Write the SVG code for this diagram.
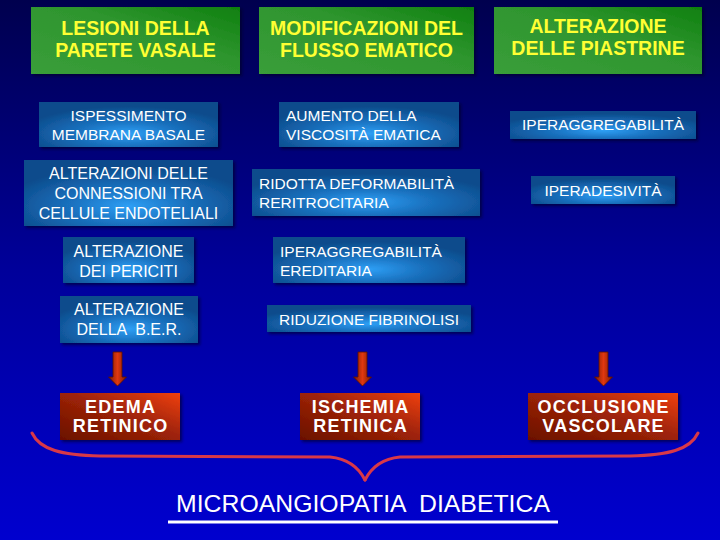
<svg xmlns="http://www.w3.org/2000/svg" width="720" height="540" viewBox="0 0 720 540">
<defs>
<linearGradient id="bg" x1="0" y1="0" x2="0" y2="1">
<stop offset="0" stop-color="#00004e"/>
<stop offset="0.5" stop-color="#00009a"/>
<stop offset="1" stop-color="#0000cf"/>
</linearGradient>
<linearGradient id="green" x1="0" y1="1" x2="1" y2="0">
<stop offset="0" stop-color="#3a9e3a"/>
<stop offset="0.6" stop-color="#2e952e"/>
<stop offset="1" stop-color="#0f800f"/>
</linearGradient>
<radialGradient id="blue" cx="0.5" cy="0.7" r="0.6">
<stop offset="0" stop-color="#2e9ff5"/>
<stop offset="0.45" stop-color="#1a72c0"/>
<stop offset="1" stop-color="#0d4c8c"/>
</radialGradient>
<linearGradient id="red" x1="0" y1="1" x2="1" y2="0">
<stop offset="0" stop-color="#6a1000"/>
<stop offset="0.55" stop-color="#a02408"/>
<stop offset="1" stop-color="#f04010"/>
</linearGradient>
<linearGradient id="arrow" x1="0" y1="0" x2="1" y2="0">
<stop offset="0" stop-color="#7a1a00"/>
<stop offset="0.5" stop-color="#e03810"/>
<stop offset="1" stop-color="#7a1a00"/>
</linearGradient>
<filter id="sh" x="-10%" y="-20%" width="120%" height="140%">
<feDropShadow dx="2" dy="2" stdDeviation="1.5" flood-color="#000020" flood-opacity="0.6"/>
</filter>
<style>
.g{fill:url(#green);filter:url(#sh)}
.b{fill:url(#blue);filter:url(#sh)}
.r{fill:url(#red);filter:url(#sh)}
.a{fill:url(#arrow);stroke:#5a1000;stroke-width:0.8}
.ty{font-family:"Liberation Sans",Arial,sans-serif;font-weight:bold;font-size:19.5px;fill:#ffff33;text-anchor:middle}
.tw{font-family:"Liberation Sans",Arial,sans-serif;font-size:15.5px;fill:#ffffff}
.tw16{font-family:"Liberation Sans",Arial,sans-serif;font-size:16px;fill:#ffffff;text-anchor:middle}
.c{text-anchor:middle}
.tr{font-family:"Liberation Sans",Arial,sans-serif;font-weight:bold;font-size:18px;fill:#ffffff;text-anchor:middle;letter-spacing:1.2px}
.brace{fill:none;stroke:#d83848;stroke-width:3;stroke-linecap:round}
</style>
</defs>
<rect x="0" y="0" width="720" height="540" fill="url(#bg)"/>

<g id="lesioni">
<rect class="g" x="31" y="7" width="209" height="67"/>
<text class="ty" x="135.5" y="35">LESIONI DELLA</text>
<text class="ty" x="135.5" y="57">PARETE VASALE</text>
</g>
<g id="modificazioni">
<rect class="g" x="259" y="7" width="215" height="67"/>
<text class="ty" x="366.5" y="35">MODIFICAZIONI DEL</text>
<text class="ty" x="366.5" y="57">FLUSSO EMATICO</text>
</g>
<g id="piastrine">
<rect class="g" x="494" y="7" width="208" height="67"/>
<text class="ty" x="598" y="33">ALTERAZIONE</text>
<text class="ty" x="598" y="55">DELLE PIASTRINE</text>
</g>

<g id="ispessimento">
<rect class="b" x="39" y="102" width="179" height="45"/>
<text class="tw c" x="128.5" y="121">ISPESSIMENTO</text>
<text class="tw c" x="128.5" y="139.5">MEMBRANA BASALE</text>
</g>
<g id="connessioni">
<rect class="b" x="24" y="160" width="209" height="66"/>
<text class="tw16" x="128.5" y="179">ALTERAZIONI DELLE</text>
<text class="tw16" x="128.5" y="199">CONNESSIONI TRA</text>
<text class="tw16" x="128.5" y="218.5">CELLULE ENDOTELIALI</text>
</g>
<g id="periciti">
<rect class="b" x="63" y="237" width="131" height="46"/>
<text class="tw16" x="128.5" y="256.5">ALTERAZIONE</text>
<text class="tw16" x="128.5" y="276.5">DEI PERICITI</text>
</g>
<g id="ber">
<rect class="b" x="60" y="296" width="138" height="47"/>
<text class="tw16" x="129" y="315">ALTERAZIONE</text>
<text class="tw16" x="129" y="335" xml:space="preserve">DELLA  B.E.R.</text>
</g>

<g id="viscosita">
<rect class="b" x="279" y="102" width="180" height="45"/>
<text class="tw" x="286" y="121">AUMENTO DELLA</text>
<text class="tw" x="286" y="139.5">VISCOSITÀ EMATICA</text>
</g>
<g id="deformabilita">
<rect class="b" x="252" y="169" width="228" height="47"/>
<text class="tw" x="259" y="189">RIDOTTA DEFORMABILITÀ</text>
<text class="tw" x="259" y="208">RERITROCITARIA</text>
</g>
<g id="ereditaria">
<rect class="b" x="273" y="237" width="192" height="46"/>
<text class="tw" x="280" y="256.5">IPERAGGREGABILITÀ</text>
<text class="tw" x="280" y="275.5">EREDITARIA</text>
</g>
<g id="fibrinolisi">
<rect class="b" x="267" y="305" width="204" height="27"/>
<text class="tw c" x="369" y="325">RIDUZIONE FIBRINOLISI</text>
</g>

<g id="iperaggregabilita">
<rect class="b" x="510" y="111" width="186" height="28"/>
<text class="tw c" x="603" y="130">IPERAGGREGABILITÀ</text>
</g>
<g id="iperadesivita">
<rect class="b" x="531" y="176" width="144" height="28"/>
<text class="tw c" x="603" y="196">IPERADESIVITÀ</text>
</g>

<g id="connectors">
<path class="a" d="M113,352 H122 V377 H126.5 L117.5,386 L108.5,377 H113 Z"/>
<path class="a" d="M358,352 H367 V377 H371.5 L362.5,386 L353.5,377 H358 Z"/>
<path class="a" d="M599,352 H608 V377 H612.5 L603.5,386 L594.5,377 H599 Z"/>
<path class="brace" d="M32,433 C40,450 62,455 100,456 L330,457 C350,459 360,470 365,480"/>
<path class="brace" d="M698,433 C690,450 668,455 630,456 L400,457 C380,459 370,470 365,480"/>
</g>

<g id="edema">
<rect class="r" x="60" y="393" width="120" height="47"/>
<text class="tr" x="120.6" y="412.5">EDEMA</text>
<text class="tr" x="120.6" y="432">RETINICO</text>
</g>
<g id="ischemia">
<rect class="r" x="300" y="393" width="120" height="47"/>
<text class="tr" x="360.6" y="412.5">ISCHEMIA</text>
<text class="tr" x="360.6" y="432">RETINICA</text>
</g>
<g id="occlusione">
<rect class="r" x="528" y="393" width="150" height="47"/>
<text class="tr" x="603.6" y="412.5">OCCLUSIONE</text>
<text class="tr" x="603.6" y="432">VASCOLARE</text>
</g>

<g id="microangiopatia">
<text x="363" y="512" font-family="'Liberation Sans',Arial,sans-serif" font-size="24.8" fill="#ffffff" text-anchor="middle" xml:space="preserve">MICROANGIOPATIA  DIABETICA</text>
<rect x="168" y="520.5" width="390" height="3" fill="#ffffff"/>
</g>
</svg>
